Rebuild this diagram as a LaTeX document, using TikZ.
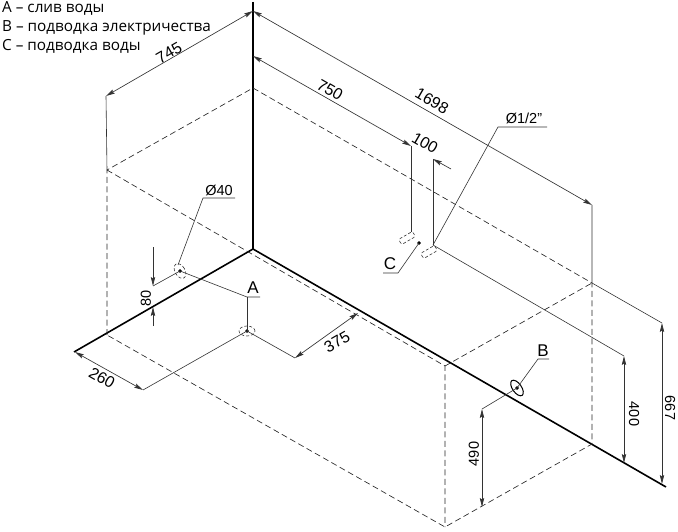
\documentclass[tikz,border=0pt]{standalone}
\usepackage{fontspec}
\setmainfont{Liberation Sans}
\newfontfamily\legendfont{Open Sans}
\usetikzlibrary{arrows.meta}
\tikzset{
  tip/.tip={Stealth[length=9pt,width=4.4pt,inset=1.5pt]},
  heavy/.style={line width=1.6pt},
  thin line/.style={line width=.6pt,black!80},
  hidden/.style={line width=.65pt,dash pattern=on 6pt off 3.5pt,black!85},
  dim/.style={line width=.65pt,black!80,tip-tip},
  arrowend/.style={line width=.65pt,black!80,-tip},
  size/.style={font=\fontsize{14.5}{14.5}\selectfont,inner sep=0pt},
  sizeiso/.style={font=\fontsize{16}{16}\selectfont,inner sep=0pt},
  letter/.style={font=\fontsize{17}{17}\selectfont,inner sep=0pt},
  legend/.style={font=\legendfont\fontsize{15.3}{15.3}\selectfont,anchor=base west,inner sep=0pt}
}
\begin{document}
\begin{tikzpicture}[x=1pt,y=-1pt]
	\useasboundingbox (0,0) rectangle (678,532);
	% corners of the bath
	\coordinate (corner) at (253,249);
	\coordinate (leftend) at (74,352);
	\coordinate (rightend) at (666,487);
	\coordinate (topend) at (253,2);
	\coordinate (backtop) at (253,88);
	\coordinate (lefttop) at (107,170);
	\coordinate (leftlow) at (107,335);
	\coordinate (fronttop) at (445,366);
	\coordinate (frontlow) at (445,527);
	\coordinate (righttop) at (592,283);
	\coordinate (rightlow) at (592,444);
	% heavy lines
	\draw[heavy](topend)--(corner);
	\draw[heavy](leftend)--(corner)--(rightend);
	% hidden outline
	\draw[hidden](leftlow)--(lefttop)--(backtop)--(righttop)--(rightlow)--(frontlow)--(leftlow);
	\draw[hidden](lefttop)--(fronttop)--(frontlow);
	\draw[hidden](fronttop)--(righttop);
	% overall sizes
	\coordinate (d745a) at (106,96);
	\coordinate (d745b) at (253,11);
	\coordinate (d1698) at (592,205);
	\coordinate (d667a) at (662,323);
	\coordinate (d667b) at (662,484);
	\draw[thin line](d745a)--(lefttop);
	\draw[thin line](d1698)--(righttop)--(d667a);
	\draw[dim](d745a)--(d745b);
	\draw[dim](d745b)--(d1698);
	\draw[dim](d667a)--(d667b);
	\node[sizeiso,rotate=30] (t745) at (169,53) {745};
	\node[sizeiso,rotate=-30] (t1698) at (432,101) {1698};
	\node[size,rotate=-90] (t667) at (670,408) {667};
	% water supply
	\coordinate (d750a) at (253,56);
	\coordinate (pipeone) at (411,146);
	\coordinate (pipetwo) at (433,159);
	\coordinate (d100end) at (451,169);
	\coordinate (outone) at (411,232);
	\coordinate (outtwo) at (433,245);
	\coordinate (d400a) at (624,356);
	\coordinate (d400b) at (624,463);
	\draw[dim](d750a)--(pipeone);
	\draw[arrowend](d100end)--(pipetwo);
	\draw[thin line](pipeone)--(outone);
	\draw[thin line](pipetwo)--(outtwo);
	\draw[thin line](outtwo)--(d400a);
	\draw[dim](d400a)--(d400b);
	\draw[thin line,densely dashed,rounded corners=2pt,rotate around={30:(407,238)}] (399,235) rectangle (415,241);
	\draw[thin line,densely dashed,rounded corners=2pt,rotate around={30:(429,252)}] (421,249) rectangle (437,255);
	\node[sizeiso,rotate=-30] (t750) at (330,90) {750};
	\node[sizeiso,rotate=-30] (t100) at (425,143) {100};
	\node[size,rotate=-90] (t400) at (634,414) {400};
	\coordinate (halfknee) at (498,127);
	\coordinate (halfend) at (547,127);
	\draw[thin line](outtwo)--(halfknee)--(halfend);
	\node[size] (thalf) at (524,118) {Ø1/2"};
	\filldraw[black](419,243) coordinate (cdot) circle(1.5pt);
	\coordinate (cknee) at (398,273);
	\coordinate (cend) at (383,273);
	\draw[thin line](cdot)--(cknee)--(cend);
	\node[letter] (tC) at (390,264) {C};
	% drain
	\coordinate (drain) at (247,331);
	\coordinate (overflow) at (180,271);
	\coordinate (aknee) at (247,297);
	\coordinate (aend) at (260,297);
	\coordinate (d260a) at (75,352);
	\coordinate (d260b) at (143,390);
	\coordinate (d375a) at (295,358);
	\coordinate (d375b) at (358,313);
	\coordinate (d80knee) at (153,286);
	\coordinate (d80low) at (153,307);
	\draw[thin line,densely dashed](drain) ellipse(8pt and 5pt);
	\draw[thin line,densely dashed,rotate around={30:(overflow)}](overflow) ellipse(5pt and 8pt);
	\filldraw[black](drain) circle(1.5pt);
	\filldraw[black](overflow) circle(1.5pt);
	\draw[thin line](overflow)--(aknee)--(aend);
	\draw[thin line](aknee)--(drain);
	\draw[thin line](d260b)--(drain)--(d375a);
	\draw[dim](d260a)--(d260b);
	\draw[dim](d375a)--(d375b);
	\draw[thin line](overflow)--(d80knee);
	\draw[arrowend](153,247)--(d80knee);
	\draw[arrowend](153,326)--(d80low);
	\coordinate (oknee) at (203,198);
	\coordinate (oend) at (235,198);
	\draw[thin line](178,265)--(oknee)--(oend);
	\node[letter] (tA) at (253,288) {A};
	\node[size] (t40) at (219,190) {Ø40};
	\node[size,rotate=90] (t80) at (146,298) {80};
	\node[sizeiso,rotate=30] (t375) at (337,342) {375};
	\node[sizeiso,rotate=-30] (t260) at (102,378) {260};
	% electricity
	\coordinate (power) at (517,388);
	\coordinate (d490a) at (482,409);
	\coordinate (d490b) at (482,507);
	\coordinate (bknee) at (538,359);
	\coordinate (bend) at (549,359);
	\draw[line width=1pt,rotate around={35:(power)}](power) ellipse(4.5pt and 9pt);
	\filldraw[black](power) circle(1.5pt);
	\draw[thin line](d490a)--(power)--(bknee)--(bend);
	\draw[dim](d490a)--(d490b);
	\node[letter] (tB) at (543,351) {B};
	\node[size,rotate=90] (t490) at (474,454) {490};
	% legend
	\node[legend] (la) at (2,13) {A – слив воды};
	\node[legend] (lb) at (2,32) {B – подводка электричества};
	\node[legend] (lc) at (2,51) {C – подводка воды};
\end{tikzpicture}
\end{document}
